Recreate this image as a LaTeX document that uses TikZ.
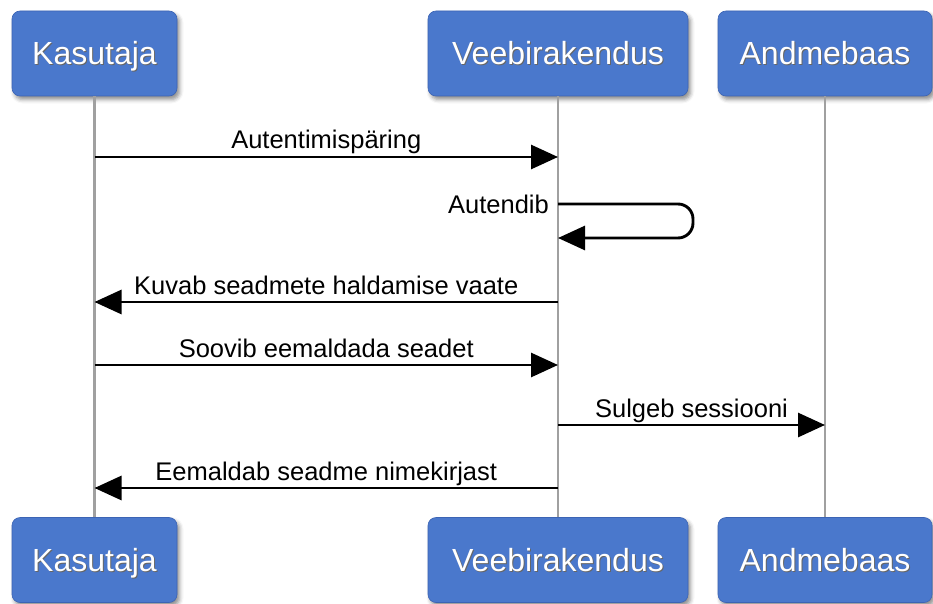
\documentclass[tikz,border=0pt]{standalone}
\usepackage{fontspec}
\setmainfont{Liberation Sans}
\usetikzlibrary{arrows.meta,shadows.blur}

\definecolor{actorblue}{RGB}{74,120,204}
\definecolor{actoredge}{RGB}{60,100,180}
\definecolor{lifegray}{RGB}{160,160,160}

% white box caption with a soft dark shadow behind it
\newcommand\shadowcaption[1]{\leavevmode\rlap{\kern1pt\raisebox{-1pt}{\color{black!60}#1}}#1}

\tikzset{
  actor/.style={draw=actoredge, line width=0.6pt, fill=actorblue, rounded corners=8pt,
    minimum height=85pt, inner sep=0pt, text=white, text height=23pt, text depth=0pt,
    font=\fontsize{32}{36}\selectfont,
    blur shadow={shadow xshift=2.5pt, shadow yshift=-3.5pt, shadow blur radius=4pt, shadow opacity=45}},
  lifeline/.style={draw=lifegray, line width=2.6pt},
  msg/.style={draw=black, line width=2.9pt, -{Triangle[length=27pt,width=24pt]}},
  labeltext/.style={font=\fontsize{25.5}{28}\selectfont, inner sep=0pt},
  msglabel/.style={labeltext, anchor=base, yshift=8pt}
}

\begin{document}
\begin{tikzpicture}[x=1pt, y=-1pt]
  \useasboundingbox (0,0) rectangle (933,604);

  % lifeline heads and feet
  \node[actor, minimum width=165pt] (kt) at (94.5,53.5) {\shadowcaption{Kasutaja}};
  \node[actor, minimum width=260pt] (vt) at (558,53.5) {\shadowcaption{Veebirakendus}};
  \node[actor, minimum width=214pt] (at) at (825,53.5) {\shadowcaption{Andmebaas}};
  \node[actor, minimum width=165pt] (kb) at (94.5,560) {\shadowcaption{Kasutaja}};
  \node[actor, minimum width=260pt] (vb) at (558,560) {\shadowcaption{Veebirakendus}};
  \node[actor, minimum width=214pt] (ab) at (825,560) {\shadowcaption{Andmebaas}};

  % lifelines
  \draw[lifeline] (kt.south) -- (kb.north);
  \draw[lifeline] (vt.south) -- (vb.north);
  \draw[lifeline] (at.south) -- (ab.north);

  % message heights
  \coordinate (m1) at (0,157);
  \coordinate (m2a) at (0,204);
  \coordinate (m2b) at (0,238);
  \coordinate (m3) at (0,302);
  \coordinate (m4) at (0,365);
  \coordinate (m5) at (0,425);
  \coordinate (m6) at (0,488);
  \coordinate (loopx) at (693,0);

  % messages
  \draw[msg] (kt |- m1) -- node[msglabel] {Autentimispäring} (vt |- m1);
  \draw[msg, rounded corners=15pt] (vt |- m2a) -- (loopx |- m2a) -- (loopx |- m2b) -- (vt |- m2b);
  \node[labeltext, anchor=base east] (selflabel) at (549,213) {Autendib};
  \draw[msg] (vt |- m3) -- node[msglabel] {Kuvab seadmete haldamise vaate} (kt |- m3);
  \draw[msg] (kt |- m4) -- node[msglabel] {Soovib eemaldada seadet} (vt |- m4);
  \draw[msg] (vt |- m5) -- node[msglabel] {Sulgeb sessiooni} (at |- m5);
  \draw[msg] (vt |- m6) -- node[msglabel] {Eemaldab seadme nimekirjast} (kt |- m6);
\end{tikzpicture}
\end{document}
